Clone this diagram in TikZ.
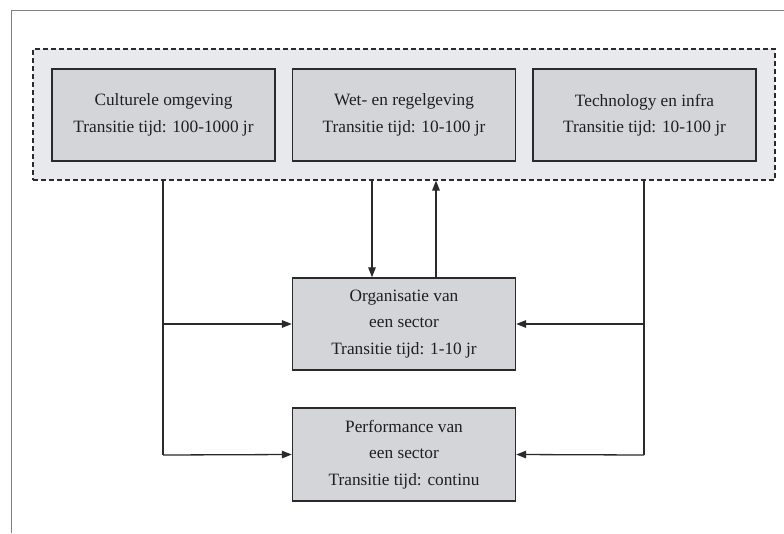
\documentclass[tikz,border=0pt]{standalone}
\usepackage{fontspec}
\setmainfont{Liberation Serif}
\usetikzlibrary{arrows.meta}
\definecolor{boxgray}{HTML}{D3D5D8}
\definecolor{grpgray}{HTML}{E7E9EC}
\definecolor{linegray}{HTML}{2A2A2A}
\begin{document}
\begin{tikzpicture}[x=1pt,y=-1pt,
  box/.style={draw=linegray, line width=1.4pt, fill=boxgray, minimum width=223pt, minimum height=92pt, align=center, inner sep=0pt, font=\fontsize{17.3}{26.5}\selectfont, text=black!88},
  grp/.style={draw=linegray, line width=1.1pt, dash pattern=on 5pt off 3pt, fill=grpgray, minimum width=742pt, minimum height=131pt, inner sep=0pt},
  conn/.style={draw=linegray, line width=1.3pt},
  arr/.style={conn, -{Triangle[length=10pt,width=7.5pt]}}]
\useasboundingbox (0,0) rectangle (784,533);
\fill[white] (0,0) rectangle (784,533);
\draw[gray, line width=1pt] (784,10) -- (11,10) -- (11,533);
\node[grp] (grp) at (404,114.5) {};
\node[box] (c1) at (163.5,115) {Culturele omgeving\\Transitie tijd: 100-1000 jr};
\node[box] (c2) at (404,115) {Wet- en regelgeving\\Transitie tijd: 10-100 jr};
\node[box] (c3) at (644.5,115) {Technology en infra\\Transitie tijd: 10-100 jr};
\node[box] (org) at (404,324) {Organisatie van\\een sector\\Transitie tijd: 1-10 jr};
\node[box, minimum height=93pt] (perf) at (404,454.5) {Performance van\\een sector\\Transitie tijd: continu};
% left feed
\coordinate (L1) at (163,324);
\coordinate (L2) at (163,455);
\draw[conn] (L1 |- grp.south) -- (L2);
\draw[arr] (L1) -- (org.west);
\draw[arr] (L2) -- (perf.west);
% right feed
\coordinate (R1) at (644,324);
\coordinate (R2) at (644,455);
\draw[conn] (R1 |- grp.south) -- (R2);
\draw[arr] (R1) -- (org.east);
\draw[arr] (R2) -- (perf.east);
% middle
\coordinate (D) at (372,0);
\coordinate (U) at (436,0);
\draw[arr] (D |- grp.south) -- (D |- org.north);
\draw[arr] (U |- org.north) -- (U |- grp.south);
\end{tikzpicture}
\end{document}
